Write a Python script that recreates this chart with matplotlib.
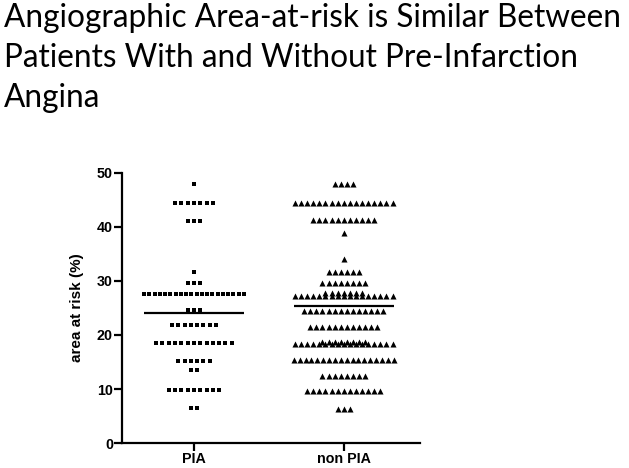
import numpy as np
import matplotlib
matplotlib.use("Agg")
from matplotlib import pyplot as plt

# rows of the dot plot: value (%) and how many patients sit on that value
pia_levels = [47.9, 44.5, 41.1, 31.7, 29.7, 27.6, 24.6, 21.9, 18.5, 15.1, 13.6, 9.8, 6.4]
pia_counts = [1, 7, 3, 1, 3, 20, 3, 8, 13, 6, 2, 9, 2]

npia_levels = [47.9, 44.5, 41.2, 38.9, 34.0, 31.7, 29.7, 27.3, 27.8, 24.4,
               21.5, 18.4, 18.7, 15.4, 12.4, 9.6, 6.3]
npia_counts = [4, 17, 11, 1, 1, 6, 8, 17, 7, 14, 12, 17, 8, 18, 8, 13, 3]

pia_mean = 24.1
npia_mean = 25.4

groups = ["PIA", "non PIA"]

title = ("Angiographic Area-at-risk is Similar Between\n"
         "Patients With and Without Pre-Infarction\n"
         "Angina")


def spread(levels, counts, center, step, max_width):
    xs, ys = [], []
    for v, n in zip(levels, counts):
        s = step
        if n > 1 and s * (n - 1) > max_width:
            s = max_width / (n - 1)
        off = (np.arange(n) - (n - 1) / 2.0) * s
        xs.extend(center + off)
        ys.extend([v] * n)
    return np.array(xs), np.array(ys)


fig = plt.figure(figsize=(6.29, 4.68), dpi=100)
fig.text(0.006, 0.993, title, ha="left", va="top", fontsize=22.7,
         family="Lato", linespacing=1.42)

ax = fig.add_axes([0.194, 0.0534, 0.474, 0.577])

# 150 px between the two groups -> 1 data unit
px = 1 / 150.0
x1, y1 = spread(pia_levels, pia_counts, 1, 6.3 * px, 100 * px)
x2, y2 = spread(npia_levels, npia_counts, 2, 6.1 * px, 100 * px)

ax.scatter(x1, y1, marker="s", s=11, color="black", linewidths=0)
ax.scatter(x2, y2, marker="^", s=19, color="black", linewidths=0)

half = 50 * px
ax.hlines([pia_mean, npia_mean], [1 - half, 2 - half], [1 + half, 2 + half],
          color="black", linewidth=1.6)

ax.set_xlim(0.52, 2.51)
ax.set_ylim(0, 50)
ax.set_xticks([1, 2])
ax.set_xticklabels(groups, fontweight="bold", fontsize=10.3, family="Liberation Sans")
ax.set_yticks([0, 10, 20, 30, 40, 50])
ax.set_yticklabels(["0", "10", "20", "30", "40", "50"], fontweight="bold",
                   fontsize=10.3, family="Liberation Sans")
ax.set_ylabel("area at risk (%)", fontweight="bold", fontsize=11,
              family="Liberation Sans", labelpad=9)

for side in ["top", "right"]:
    ax.spines[side].set_visible(False)
for side in ["left", "bottom"]:
    ax.spines[side].set_linewidth(1.6)
ax.tick_params(direction="out", length=5.5, width=1.6, pad=1)

fig.savefig("out.png", dpi=100)
